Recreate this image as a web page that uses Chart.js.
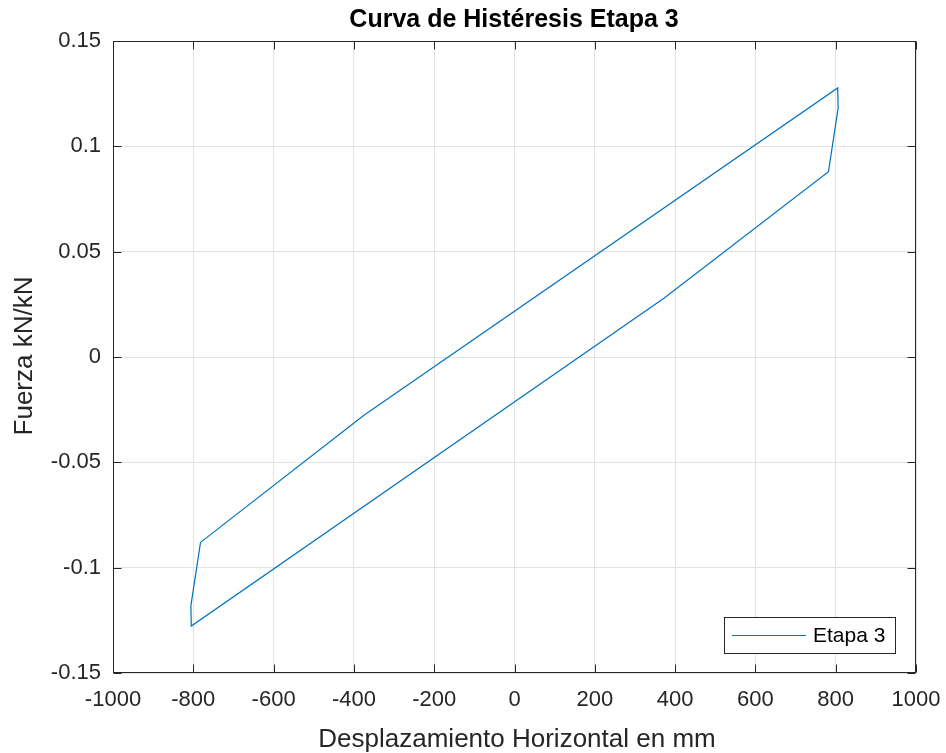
<!DOCTYPE html>
<html>
<head>
<meta charset="utf-8">
<script src="https://cdn.jsdelivr.net/npm/chart.js@4.4.0/dist/chart.umd.min.js"></script>
<style>
  html, body { margin: 0; padding: 0; background: #fff; }
  canvas { display: block; }
</style>
</head>
<body>
<canvas id="chart" width="946" height="753"></canvas>
<script>
const desplazamiento = [-782, -375, 805, 806, 782, 373, -805, -806, -782];
const fuerza = [-0.0880, -0.0277, 0.1277, 0.1180, 0.0880, 0.0280, -0.1277, -0.1180, -0.0880];

const xTicks = [-1000, -800, -600, -400, -200, 0, 200, 400, 600, 800, 1000];
const xTickLabels = ['-1000', '-800', '-600', '-400', '-200', '0', '200', '400', '600', '800', '1000'];
const yTicks = [-0.15, -0.1, -0.05, 0, 0.05, 0.1, 0.15];
const yTickLabels = ['-0.15', '-0.1', '-0.05', '0', '0.05', '0.1', '0.15'];

const titulo = 'Curva de Histéresis Etapa 3';
const xTitulo = 'Desplazamiento Horizontal en mm';
const yTitulo = 'Fuerza kN/kN';
const serieLabel = 'Etapa 3';

const FONT = '"Liberation Sans", Arial, Helvetica, sans-serif';
const AXIS = '#262626';
const LINE = '#0072BD';

const points = desplazamiento.map((d, i) => ({ x: d, y: fuerza[i] }));

// inward ticks, box, titles and legend the matlab way
const matlabDecor = {
    id: 'matlabDecor',
    afterDatasetsDraw(chart) {
        const { ctx, chartArea: a, scales: { x, y } } = chart;
        const L = Math.round(a.left) + 0.5, R = Math.round(a.right) - 0.5;
        const T = Math.round(a.top) + 0.5, B = Math.round(a.bottom) - 0.5;
        ctx.save();
        ctx.strokeStyle = AXIS;
        ctx.lineWidth = 1;
        ctx.beginPath();
        xTicks.forEach(v => {
            const px = Math.round(x.getPixelForValue(v)) + 0.5;
            ctx.moveTo(px, B); ctx.lineTo(px, B - 8);
            ctx.moveTo(px, T); ctx.lineTo(px, T + 8);
        });
        yTicks.forEach(v => {
            const py = Math.round(y.getPixelForValue(v)) + 0.5;
            ctx.moveTo(L, py); ctx.lineTo(L + 8, py);
            ctx.moveTo(R, py); ctx.lineTo(R - 8, py);
        });
        ctx.stroke();
        ctx.strokeRect(L, T, R - L, B - T);

        // legend
        const lx = 724.5, ly = 617.5, lw = 171, lh = 36;
        ctx.fillStyle = '#fff';
        ctx.fillRect(lx, ly, lw, lh);
        ctx.strokeStyle = AXIS;
        ctx.strokeRect(lx, ly, lw, lh);
        ctx.strokeStyle = LINE;
        ctx.lineWidth = 1.2;
        ctx.beginPath();
        ctx.moveTo(732, 635.5); ctx.lineTo(806, 635.5);
        ctx.stroke();
        ctx.fillStyle = '#000';
        ctx.font = '21px ' + FONT;
        ctx.textAlign = 'left';
        ctx.textBaseline = 'middle';
        ctx.fillText(serieLabel, 813, 636);

        // titles
        ctx.fillStyle = '#000';
        ctx.font = 'bold 25px ' + FONT;
        ctx.textAlign = 'center';
        ctx.textBaseline = 'alphabetic';
        ctx.fillText(titulo, 514, 27);

        ctx.fillStyle = AXIS;
        ctx.font = '26px ' + FONT;
        ctx.fillText(xTitulo, 517, 747);

        ctx.translate(32, 356);
        ctx.rotate(-Math.PI / 2);
        ctx.fillText(yTitulo, 0, 0);
        ctx.restore();
    }
};

new Chart(document.getElementById('chart'), {
    type: 'scatter',
    data: {
        datasets: [{
            label: serieLabel,
            data: points,
            showLine: true,
            borderColor: LINE,
            backgroundColor: LINE,
            borderWidth: 1.2,
            pointRadius: 0,
            tension: 0,
        }],
    },
    options: {
        responsive: false,
        animation: false,
        devicePixelRatio: 1,
        layout: { padding: { top: 41, right: 30, left: 0, bottom: 0 } },
        plugins: {
            legend: { display: false },
            tooltip: { enabled: false },
            title: { display: false },
        },
        scales: {
            x: {
                type: 'linear',
                min: -1000,
                max: 1000,
                afterBuildTicks: (scale) => { scale.ticks = xTicks.map(v => ({ value: v })); },
                afterFit: (scale) => {
                    scale.height = 80;
                    scale.paddingLeft = 0;
                    scale.paddingRight = 0;
                },
                ticks: {
                    autoSkip: false,
                    maxRotation: 0,
                    padding: 14,
                    color: AXIS,
                    font: { family: FONT, size: 22 },
                    callback: (value) => xTickLabels[xTicks.indexOf(value)],
                },
                grid: { color: '#e3e3e3', drawTicks: false },
                border: { display: false },
            },
            y: {
                type: 'linear',
                min: -0.15,
                max: 0.15,
                afterBuildTicks: (scale) => { scale.ticks = yTicks.map(v => ({ value: v })); },
                afterFit: (scale) => {
                    scale.width = 113;
                    scale.paddingTop = 0;
                    scale.paddingBottom = 0;
                },
                ticks: {
                    autoSkip: false,
                    padding: 12,
                    color: AXIS,
                    font: { family: FONT, size: 22 },
                    callback: (value) => yTickLabels[yTicks.indexOf(value)],
                },
                grid: { color: '#e3e3e3', drawTicks: false },
                border: { display: false },
            },
        },
    },
    plugins: [matlabDecor],
});
</script>
</body>
</html>
